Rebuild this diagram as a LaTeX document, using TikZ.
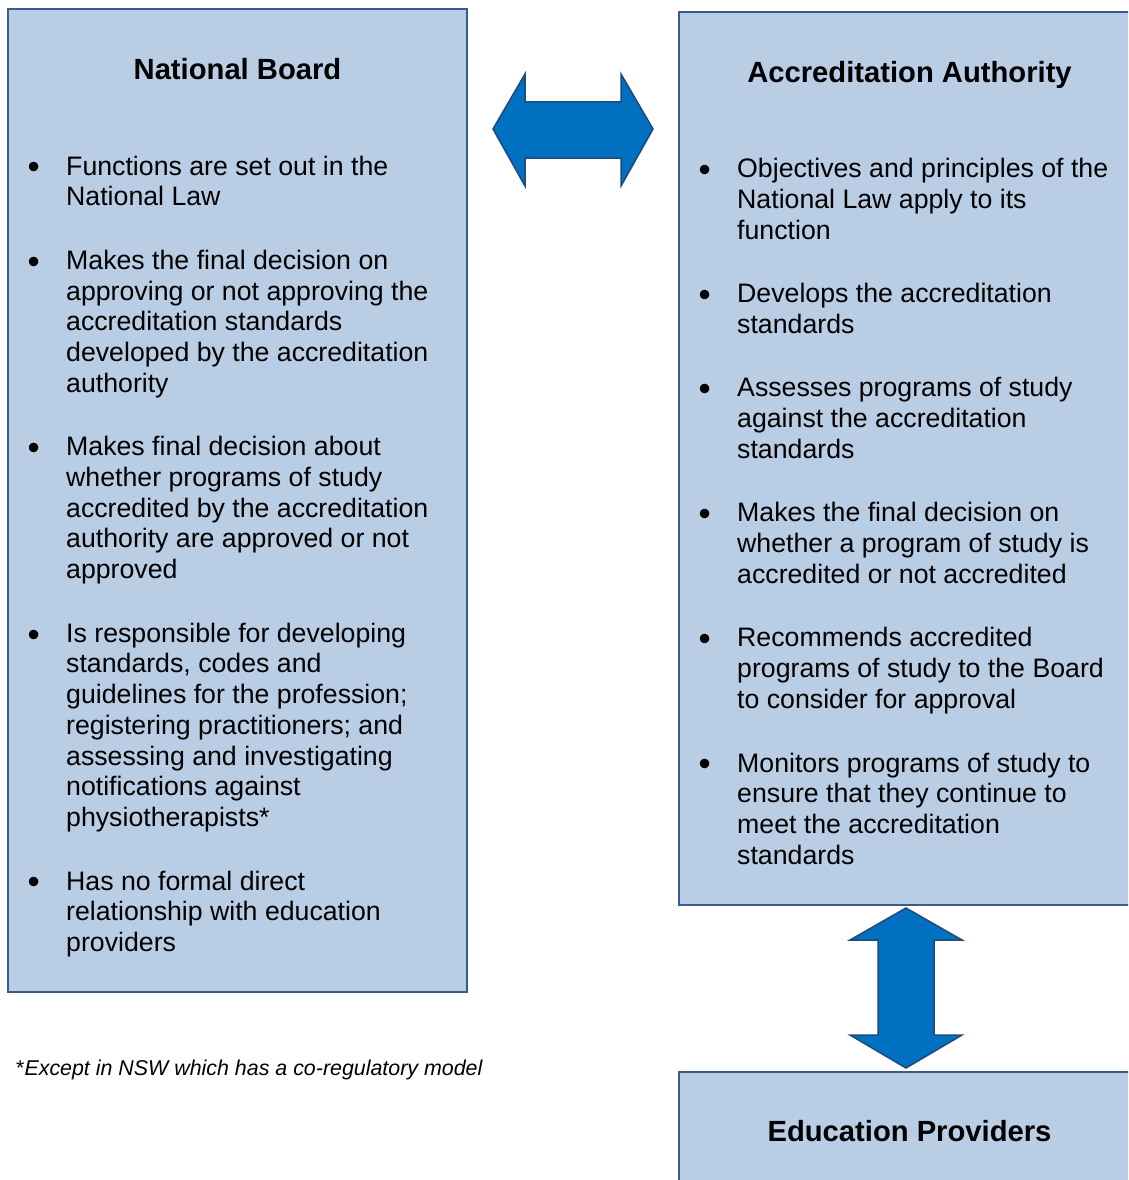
\documentclass[tikz,border=0pt]{standalone}
\usepackage{fontspec}
\setmainfont{Liberation Sans}
\usetikzlibrary{positioning,calc}

\definecolor{boxfill}{RGB}{185,205,229}
\definecolor{boxline}{RGB}{56,93,138}
\definecolor{arrowfill}{RGB}{0,112,192}
\definecolor{arrowline}{RGB}{31,73,125}

\newcommand{\bul}{\llap{\makebox[38.5pt][l]{\fontsize{34.7}{0}\selectfont\raisebox{-3.8pt}{\textbullet}}}\strut}
\newlength{\itemgap}
\setlength{\itemgap}{32.5pt}

\tikzset{
  panel/.style={draw=boxline, fill=boxfill, line width=2pt, inner sep=0pt, outer sep=0pt, anchor=north west},
  paneltitle/.style={font=\fontsize{29.2}{33}\selectfont\bfseries, anchor=base, inner sep=0pt},
  bulletitem/.style={font=\fontsize{26.7}{30.7}\selectfont, align=left, inner sep=0pt, anchor=north west},
  blockarrow/.style={draw=arrowline, fill=arrowfill, line width=1.5pt, line join=miter},
}

\begin{document}
\begin{tikzpicture}[x=1pt, y=-1pt]
    \useasboundingbox (0,0) rectangle (1128,1180);
    \clip (0,0) rectangle (1128,1180);

    % boxes
    \node[panel, minimum width=459pt, minimum height=983pt] (nb) at (8,9) {};
    \node[panel, minimum width=461pt, minimum height=893pt] (aa) at (679,12) {};
    \node[panel, minimum width=461pt, minimum height=130pt] (ep) at (679,1072) {};

    \node[paneltitle] (nbtitle) at ($(nb.north)+(0,71)$) {National Board};
    \node[paneltitle] (aatitle) at ($(aa.north)+(0,71)$) {Accreditation Authority};
    \node[paneltitle] (eptitle) at ($(ep.north)+(0,69)$) {Education Providers};

    % National Board
    \node[bulletitem] (nb1) at (66,153.5) {\bul Functions are set out in the\\National Law\strut};
    \node[bulletitem, below=\itemgap of nb1.south west, anchor=north west] (nb2)
        {\bul Makes the final decision on\\approving or not approving the\\accreditation standards\\developed by the accreditation\\authority\strut};
    \node[bulletitem, below=\itemgap of nb2.south west, anchor=north west] (nb3)
        {\bul Makes final decision about\\whether programs of study\\accredited by the accreditation\\authority are approved or not\\approved\strut};
    \node[bulletitem, below=\itemgap of nb3.south west, anchor=north west] (nb4)
        {\bul Is responsible for developing\\standards, codes and\\guidelines for the profession;\\registering practitioners; and\\assessing and investigating\\notifications against\\physiotherapists*\strut};
    \node[bulletitem, below=\itemgap of nb4.south west, anchor=north west] (nb5)
        {\bul Has no formal direct\\relationship with education\\providers\strut};

    % Accreditation Authority
    \node[bulletitem] (aa1) at (737,156) {\bul Objectives and principles of the\\National Law apply to its\\function\strut};
    \node[bulletitem, below=\itemgap of aa1.south west, anchor=north west] (aa2)
        {\bul Develops the accreditation\\standards\strut};
    \node[bulletitem, below=\itemgap of aa2.south west, anchor=north west] (aa3)
        {\bul Assesses programs of study\\against the accreditation\\standards\strut};
    \node[bulletitem, below=\itemgap of aa3.south west, anchor=north west] (aa4)
        {\bul Makes the final decision on\\whether a program of study is\\accredited or not accredited\strut};
    \node[bulletitem, below=\itemgap of aa4.south west, anchor=north west] (aa5)
        {\bul Recommends accredited\\programs of study to the Board\\to consider for approval\strut};
    \node[bulletitem, below=\itemgap of aa5.south west, anchor=north west] (aa6)
        {\bul Monitors programs of study to\\ensure that they continue to\\meet the accreditation\\standards\strut};

    % footnote
    \node[anchor=base west, inner sep=0pt, font=\fontsize{21.4}{25}\selectfont] (note) at (16,1075)
        {*\textit{Except in NSW which has a co-regulatory model}};

    % block arrows
    \draw[blockarrow] (493,129) -- (525,74) -- (525,102) -- (621,102) -- (621,74) -- (653,129)
        -- (621,186) -- (621,158) -- (525,158) -- (525,186) -- cycle;
    \draw[blockarrow] (906,908) -- (962,940) -- (934,940) -- (934,1035) -- (962,1035) -- (906,1068)
        -- (850,1035) -- (878,1035) -- (878,940) -- (850,940) -- cycle;
\end{tikzpicture}
\end{document}
